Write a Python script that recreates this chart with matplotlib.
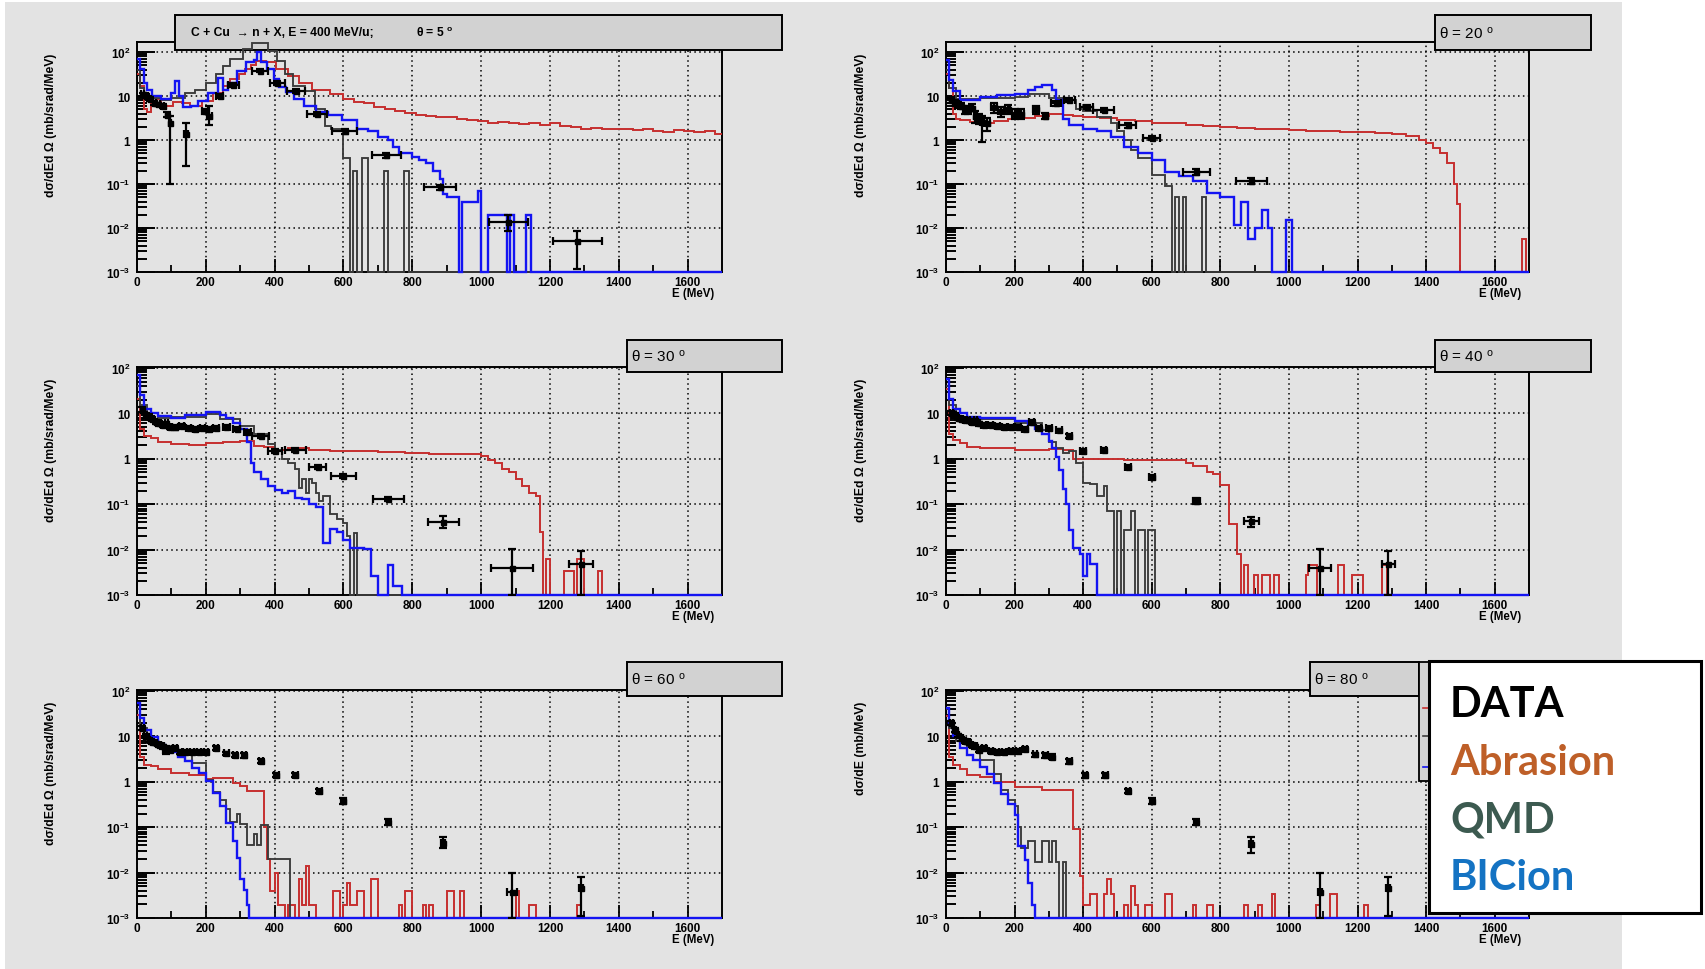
import numpy as np
import matplotlib
matplotlib.use("Agg")
import matplotlib.pyplot as plt
from matplotlib.patches import Rectangle
from matplotlib.lines import Line2D

plt.rcParams["font.family"] = ["Liberation Sans", "DejaVu Sans"]
plt.rcParams["mathtext.fontset"] = "custom"
plt.rcParams["mathtext.rm"] = "Liberation Sans"
plt.rcParams["mathtext.bf"] = "Liberation Sans:bold"
plt.rcParams["mathtext.it"] = "Liberation Sans:italic"

# ------------------------------------------------------------------
# Neutron spectra, C + Cu -> n + X at 400 MeV/u
# histograms: bin edges (MeV) and bin contents (mb/sr/MeV)
# ------------------------------------------------------------------

# theta = 5 deg
abr05_e = [0, 10, 20, 30, 40, 55, 70, 85, 105, 130, 155, 190, 220, 250, 270, 295, 315, 330, 345, 375,
           405, 440, 470, 510, 560, 600, 630, 660, 690, 720, 750, 780, 810, 840, 870, 900, 930, 960, 990, 1020,
           1050, 1080, 1110, 1140, 1170, 1200, 1230, 1260, 1290, 1320, 1350, 1380, 1410, 1440, 1470, 1500, 1530, 1560, 1590, 1620,
           1650, 1680, 1700]
abr05_v = [32, 17, 5, 4.3, 10, 8.5, 5, 5.9, 7.2, 6.8, 5.9, 7.8, 12, 17, 24, 32, 41, 50, 64, 59,
           41, 29, 20, 14, 11, 8.7, 7.5, 7, 5.8, 5, 4.6, 4.2, 3.8, 3.6, 3.4, 3.3, 3.0, 2.8, 2.7, 2.5,
           2.6, 2.4, 2.3, 2.4, 2.2, 2.4, 2.1, 2.0, 1.8, 1.9, 1.75, 1.8, 1.75, 1.7, 1.8, 1.65, 1.55, 1.7, 1.6, 1.5,
           1.65, 1.4]
qmd05_e = [0, 10, 20, 40, 70, 100, 140, 170, 200, 231, 251, 270, 309, 334, 382, 406, 430, 454, 488, 517,
           546, 565, 600, 620, 628, 640, 655, 670, 718, 728, 775, 790, 1700]
qmd05_v = [40, 15, 10, 9, 8, 9, 12, 14, 20, 32, 49, 69, 117, 165, 107, 64, 32, 17, 13, 5,
           2.1, 1.8, 0.4, 0, 0.2, 0, 0.4, 0, 0.2, 0, 0.2, 0]
bic05_e = [0, 10, 20, 30, 45, 70, 100, 110, 123, 133, 157, 176, 205, 234, 249, 263, 292, 316, 340, 350,
           359, 379, 398, 413, 432, 457, 486, 520, 554, 595, 640, 670, 700, 730, 745, 760, 780, 800, 820, 840,
           860, 880, 890, 900, 935, 945, 990, 1000, 1020, 1075, 1085, 1095, 1130, 1145, 1700]
bic05_v = [69, 41, 20, 14, 10, 8.5, 12, 22, 10, 5.6, 5.9, 7.8, 12, 26, 14, 20, 38, 59, 66, 100,
           59, 41, 24.5, 16, 12.3, 8.5, 6, 4.3, 3.7, 2.8, 1.8, 1.6, 1.2, 1.0, 0.7, 0.5, 0.5, 0.42, 0.36, 0.3,
           0.2, 0.13, 0.06, 0.05, 0, 0.04, 0.07, 0, 0.02, 0, 0.02, 0, 0.02, 0]
d05_e = [17, 27, 38, 50, 62, 75, 88, 95, 143, 197, 210, 240, 280, 358, 408, 462, 523, 603, 725, 881, 1079, 1280]
d05_y = [11, 10, 8.5, 7, 6.5, 6, 3.8, 2.4, 1.4, 4.5, 3.6, 10, 18, 38, 20, 13, 3.9, 1.6, 0.45, 0.085, 0.014, 0.005]
d05_ex = [4, 4, 4, 4, 4, 4, 4, 3, 5, 8, 8, 10, 17, 24, 22, 27, 30, 35, 42, 47, 57, 70]
d05_lo = [1, 1, 0.8, 0.7, 0.6, 0.6, 0.5, 2.3, 1.14, 0.5, 1.4, 1, 1.5, 3, 2, 1.5, 0.4, 0.2, 0.05, 0.012, 0.0053, 0.0038]
d05_hi = [1, 1, 0.8, 0.7, 0.6, 0.6, 0.5, 1.1, 1.0, 0.5, 2.3, 1, 1.5, 3, 2, 1.5, 0.4, 0.2, 0.05, 0.012, 0.006, 0.0035]

# theta = 20 deg
abr20_e = [0, 10, 20, 30, 40, 70, 100, 140, 180, 220, 260, 300, 340, 370, 400, 450, 500, 550, 600, 650,
           700, 750, 800, 850, 900, 950, 1000, 1050, 1100, 1150, 1200, 1250, 1300, 1340, 1380, 1400, 1420, 1440, 1460, 1480,
           1490, 1500, 1680, 1690, 1700]
abr20_v = [32, 15, 4, 3, 2.9, 2.6, 2.5, 2.7, 3.0, 3.1, 3.5, 4.0, 3.8, 3.5, 3.4, 3.1, 2.9, 2.7, 2.5, 2.4,
           2.25, 2.05, 2.0, 1.9, 1.8, 1.75, 1.7, 1.65, 1.6, 1.55, 1.5, 1.45, 1.35, 1.25, 1.0, 0.85, 0.65, 0.5, 0.3, 0.1,
           0.035, 0, 0.0055, 0]
qmd20_e = [0, 10, 30, 100, 200, 240, 300, 340, 380, 400, 440, 480, 500, 520, 540, 560, 580, 600, 640, 660,
           668, 680, 690, 700, 747, 757, 1700]
qmd20_v = [40, 15, 8.5, 9, 9.5, 11, 9, 8, 5, 4.5, 3.4, 2.5, 1.6, 1.0, 0.6, 0.4, 0.4, 0.16, 0.09, 0,
           0.05, 0, 0.05, 0, 0.05, 0]
bic20_e = [0, 10, 20, 40, 100, 150, 200, 240, 260, 280, 310, 320, 340, 360, 400, 440, 480, 520, 560, 600,
           640, 680, 720, 760, 800, 840, 860, 880, 900, 920, 940, 950, 990, 1010, 1700]
bic20_v = [65, 23, 13, 8, 9.5, 10.5, 11, 13.5, 16, 18, 14, 8, 3, 2.2, 1.8, 1.6, 1.2, 0.7, 0.5, 0.35,
           0.19, 0.15, 0.12, 0.063, 0.05, 0.012, 0.04, 0.0055, 0.01, 0.026, 0.01, 0, 0.015, 0]
d20_e = [15, 25, 35, 45, 55, 65, 75, 85, 95, 105, 120, 140, 160, 180, 200, 220, 262, 290, 320, 360,
         410, 460, 530, 600, 730, 890]
d20_y = [8, 7, 6.5, 6, 5, 5, 5.5, 3.5, 3.1, 2.6, 2.4, 5.6, 4.5, 5.2, 4, 4, 5, 3.6, 6.8, 8.3,
         5.6, 4.8, 2.2, 1.1, 0.19, 0.12]
d20_ex = [4, 4, 4, 4, 4, 4, 4, 4, 4, 5, 8, 8, 8, 8, 8, 8, 8, 8, 15, 15, 20, 30, 25, 25, 40, 45]
d20_lo = [1, 1, 1, 1, 1, 1, 1, 1, 0.8, 1.7, 0.8, 1.5, 1.2, 1.2, 1.0, 1.0, 1.0, 0.6, 0.8, 0.8,
          0.6, 0.5, 0.3, 0.12, 0.03, 0.02]
d20_hi = [1, 1, 1, 1, 1, 1, 1, 1, 0.8, 1.0, 0.8, 1.5, 1.2, 1.2, 1.0, 1.0, 1.0, 0.6, 0.8, 0.8,
          0.6, 0.5, 0.3, 0.12, 0.03, 0.02]

# theta = 30 deg
abr30_e = [0, 10, 20, 40, 60, 100, 150, 200, 250, 300, 340, 370, 400, 440, 500, 560, 620, 700, 780, 850,
           920, 1000, 1020, 1040, 1060, 1080, 1100, 1120, 1140, 1160, 1170, 1180, 1190, 1200, 1240, 1270, 1280, 1300, 1340, 1350,
           1700]
abr30_v = [21, 4.6, 3.2, 2.8, 2.3, 2.1, 2.0, 2.2, 2.3, 2.5, 1.9, 1.8, 1.6, 1.7, 1.55, 1.5, 1.45, 1.4, 1.35, 1.3,
           1.25, 1.15, 0.95, 0.8, 0.6, 0.5, 0.35, 0.25, 0.18, 0.15, 0.024, 0, 0.0063, 0, 0.0033, 0, 0.0063, 0, 0.0033, 0]
qmd30_e = [0, 10, 30, 60, 100, 200, 240, 300, 340, 380, 400, 420, 440, 460, 470, 480, 490, 500, 510, 520,
           530, 540, 560, 580, 600, 610, 620, 632, 640, 1700]
qmd30_v = [40, 15, 10, 8, 8.5, 9.5, 7.5, 5.3, 3.5, 2.1, 1.6, 1.0, 0.8, 0.6, 0.23, 0.35, 0.18, 0.35, 0.3, 0.18,
           0.12, 0.15, 0.06, 0.046, 0.038, 0.02, 0, 0.023, 0]
bic30_e = [0, 10, 20, 40, 60, 100, 140, 200, 240, 260, 280, 300, 320, 330, 340, 360, 380, 400, 420, 440,
           460, 480, 500, 520, 540, 560, 580, 600, 620, 660, 680, 700, 730, 745, 770, 1700]
bic30_v = [69, 25, 12.6, 10, 8.9, 8, 9, 10.7, 9, 8, 6, 4.5, 2.3, 0.8, 0.5, 0.35, 0.25, 0.21, 0.18, 0.2,
           0.14, 0.13, 0.1, 0.085, 0.014, 0.028, 0.025, 0.016, 0.011, 0.0105, 0.0026, 0, 0.0045, 0.0016, 0]
d30_e = [15, 25, 35, 45, 55, 65, 75, 85, 95, 110, 130, 150, 170, 190, 210, 230, 260, 290, 320, 360,
         400, 460, 525, 600, 730, 890, 1090, 1290]
d30_y = [12, 9, 8.5, 7.5, 6.5, 6, 5.5, 6, 5, 5, 5.3, 4.8, 4.6, 4.8, 4.5, 4.8, 5, 4.5, 3.9, 3.2,
         1.5, 1.55, 0.66, 0.42, 0.13, 0.041, 0.0039, 0.0047]
d30_ex = [4, 4, 4, 4, 4, 4, 4, 4, 4, 8, 8, 8, 8, 8, 8, 8, 10, 10, 10, 25, 20, 30, 25, 35, 45, 45, 60, 35]
d30_lo = [1.5, 1, 1, 0.8, 0.7, 0.7, 0.6, 0.6, 0.5, 0.6, 0.6, 0.5, 0.5, 0.5, 0.5, 0.5, 0.5, 0.5, 0.4, 0.3,
          0.15, 0.15, 0.06, 0.04, 0.015, 0.011, 0.0029, 0.0037]
d30_hi = [1.5, 1, 1, 0.8, 0.7, 0.7, 0.6, 0.6, 0.5, 0.6, 0.6, 0.5, 0.5, 0.5, 0.5, 0.5, 0.5, 0.5, 0.4, 0.3,
          0.15, 0.15, 0.06, 0.04, 0.015, 0.014, 0.0066, 0.0046]

# theta = 40 deg
abr40_e = [0, 10, 20, 40, 60, 100, 200, 300, 340, 370, 380, 450, 520, 600, 700, 720, 760, 780, 800, 826,
           848, 860, 870, 882, 898, 911, 922, 945, 955, 970, 1049, 1057, 1081, 1142, 1161, 1185, 1217, 1272, 1285, 1700]
abr40_v = [35, 3.5, 2.6, 2.2, 1.8, 1.7, 1.55, 1.65, 1.6, 1.0, 1.0, 0.97, 0.95, 0.95, 0.8, 0.7, 0.5, 0.46, 0.26, 0.036,
           0.008, 0, 0.0045, 0, 0.0027, 0, 0.0027, 0, 0.0027, 0, 0.0027, 0.0045, 0, 0.0045, 0, 0.0027, 0, 0.0045, 0]
qmd40_e = [0, 10, 30, 100, 200, 280, 300, 320, 340, 360, 380, 400, 420, 440, 460, 470, 490, 500, 510, 520,
           540, 550, 560, 580, 590, 610, 1700]
qmd40_v = [40, 15, 8, 7.4, 6.2, 4.2, 2.4, 1.75, 1.35, 1.5, 0.82, 0.3, 0.28, 0.15, 0.25, 0.07, 0, 0.07, 0, 0.027,
           0.07, 0, 0.027, 0, 0.027, 0]
bic40_e = [0, 10, 20, 40, 60, 100, 200, 240, 260, 280, 300, 310, 320, 330, 340, 350, 360, 370, 390, 400,
           410, 420, 440, 1700]
bic40_v = [58, 21, 12.7, 10, 8.5, 7.8, 6.9, 5.5, 4.5, 3.6, 2.5, 1.7, 1.1, 0.58, 0.22, 0.1, 0.027, 0.011, 0.008, 0.0026,
           0.008, 0.0048, 0]
d40_e = [15, 25, 35, 45, 55, 65, 75, 85, 95, 110, 130, 150, 170, 190, 210, 230, 250, 270, 300, 330,
         360, 400, 460, 530, 600, 730, 890, 1090, 1290]
d40_y = [10, 9, 8, 7.5, 7.2, 7, 6.5, 7, 6, 5.5, 5.5, 5.3, 5, 5, 5, 4.5, 6.4, 4.8, 4.7, 4.2,
         3.2, 1.5, 1.55, 0.66, 0.4, 0.12, 0.042, 0.004, 0.0047]
d40_ex = [4, 4, 4, 4, 4, 4, 4, 4, 4, 8, 8, 8, 8, 8, 8, 8, 8, 8, 8, 8, 8, 8, 8, 8, 8, 10, 22, 32, 18]
d40_lo = [1, 1, 0.8, 0.7, 0.7, 0.7, 0.6, 0.7, 0.6, 0.5, 0.5, 0.5, 0.5, 0.5, 0.5, 0.5, 0.6, 0.5, 0.5, 0.4,
          0.3, 0.15, 0.15, 0.07, 0.05, 0.02, 0.01, 0.003, 0.0037]
d40_hi = [1, 1, 0.8, 0.7, 0.7, 0.7, 0.6, 0.7, 0.6, 0.5, 0.5, 0.5, 0.5, 0.5, 0.5, 0.5, 0.6, 0.5, 0.5, 0.4,
          0.3, 0.15, 0.15, 0.07, 0.05, 0.02, 0.01, 0.0065, 0.0046]

# theta = 60 deg
abr60_e = [0, 10, 20, 40, 60, 100, 150, 200, 220, 280, 300, 320, 369, 378, 387, 400, 410, 430, 440, 460,
           470, 480, 490, 500, 520, 570, 590, 600, 610, 620, 640, 660, 680, 700, 760, 770, 780, 800, 830, 840,
           850, 860, 900, 920, 940, 950, 1100, 1110, 1140, 1160, 1280, 1290, 1700]
abr60_v = [29, 3.6, 2.4, 2.2, 1.9, 1.6, 1.4, 1.15, 1.2, 0.95, 0.8, 0.62, 0.1, 0.02, 0.004, 0.01, 0.0019, 0, 0.0019, 0,
           0.0073, 0.0019, 0.014, 0.0019, 0, 0.004, 0, 0.0019, 0.006, 0.0019, 0.004, 0, 0.0073, 0, 0.0019, 0, 0.004, 0, 0.0019, 0,
           0.0019, 0, 0.004, 0, 0.004, 0, 0.004, 0, 0.0019, 0, 0.0019, 0]
qmd60_e = [0, 10, 30, 60, 100, 120, 160, 200, 220, 240, 260, 270, 290, 300, 320, 340, 350, 360, 380, 446, 1700]
qmd60_v = [40, 15, 7, 6, 5, 4.6, 2.6, 1.1, 0.6, 0.4, 0.25, 0.13, 0.2, 0.12, 0.04, 0.07, 0.04, 0.11, 0.02, 0]
bic60_e = [0, 10, 20, 40, 60, 80, 100, 120, 140, 160, 180, 200, 220, 240, 260, 280, 290, 300, 310, 320, 325, 1700]
bic60_v = [53, 25, 13.6, 9.7, 6.5, 5.5, 4.6, 3.6, 2.8, 2.0, 1.55, 1.03, 0.57, 0.29, 0.125, 0.05, 0.021, 0.0073, 0.0042, 0.0019, 0]
d60_e = [15, 25, 35, 45, 55, 65, 75, 85, 95, 110, 125, 140, 160, 180, 200, 230, 260, 285, 310, 360,
         405, 460, 530, 600, 730, 890, 1090, 1290]
d60_y = [15, 10, 8.5, 7.5, 7, 6.5, 6, 5, 5, 5.5, 4.6, 4.6, 4.6, 4.6, 4.6, 5.6, 4.2, 3.9, 3.8, 2.9,
         1.4, 1.4, 0.64, 0.38, 0.13, 0.045, 0.0037, 0.0045]
d60_ex = [4, 4, 4, 4, 4, 4, 4, 10, 4, 6, 6, 6, 6, 6, 6, 6, 6, 6, 6, 6, 8, 8, 8, 8, 6, 6, 15, 5]
d60_lo = [1.5, 1, 0.8, 0.7, 0.7, 0.6, 0.6, 1, 0.5, 0.5, 0.5, 0.5, 0.5, 0.5, 0.5, 0.6, 0.4, 0.4, 0.4, 0.3,
          0.15, 0.15, 0.07, 0.05, 0.02, 0.011, 0.0027, 0.0034]
d60_hi = [1.5, 1, 0.8, 0.7, 0.7, 0.6, 0.6, 1, 0.5, 0.5, 0.5, 0.5, 0.5, 0.5, 0.5, 0.6, 0.4, 0.4, 0.4, 0.3,
          0.15, 0.15, 0.07, 0.05, 0.02, 0.015, 0.0063, 0.0037]

# theta = 80 deg
abr80_e = [0, 10, 20, 40, 60, 100, 140, 200, 280, 370, 390, 400, 420, 440, 460, 470, 480, 490, 520, 530,
           540, 550, 560, 580, 600, 640, 660, 720, 730, 760, 780, 870, 880, 910, 920, 950, 960, 1080, 1090, 1120,
           1140, 1220, 1230, 1700]
abr80_v = [28, 3.5, 2.3, 1.9, 1.4, 1.3, 1.0, 0.78, 0.66, 0.09, 0.0085, 0.0019, 0.0034, 0, 0.0034, 0.0072, 0.0034, 0, 0.0019, 0,
           0.0051, 0.0019, 0, 0.0019, 0, 0.0034, 0, 0.0019, 0, 0.0019, 0, 0.0019, 0, 0.0019, 0, 0.0034, 0, 0.0019, 0, 0.0034,
           0, 0.0019, 0]
qmd80_e = [0, 10, 30, 60, 100, 140, 160, 180, 200, 210, 220, 240, 260, 280, 300, 310, 320, 330, 340, 350, 1700]
qmd80_v = [40, 15, 8, 5.8, 3, 1.5, 0.66, 0.4, 0.29, 0.1, 0.035, 0.05, 0.017, 0.05, 0.017, 0.05, 0.017, 0, 0.017, 0]
bic80_e = [0, 10, 20, 40, 60, 80, 100, 120, 140, 160, 180, 200, 210, 230, 240, 250, 260, 1700]
bic80_v = [43, 18, 10.3, 5.6, 3.8, 3.0, 2.1, 1.5, 0.92, 0.55, 0.33, 0.19, 0.038, 0.019, 0.0059, 0.0019, 0]
d80_e = [15, 25, 35, 45, 55, 65, 75, 85, 95, 110, 130, 150, 170, 190, 210, 230, 260, 290, 310, 360,
         405, 465, 530, 600, 730, 890, 1090, 1290]
d80_y = [20, 14, 10.5, 9, 8, 7.5, 6.5, 6, 5, 5.5, 4.8, 4.6, 4.6, 4.8, 4.8, 5.3, 4, 3.8, 3.6, 2.8,
         1.38, 1.38, 0.63, 0.38, 0.13, 0.043, 0.0037, 0.0045]
d80_ex = [4, 4, 4, 4, 4, 4, 4, 4, 4, 6, 6, 6, 6, 6, 6, 6, 6, 6, 6, 6, 6, 6, 6, 6, 6, 6, 5, 6]
d80_lo = [2, 1.5, 1, 0.9, 0.8, 0.7, 0.6, 0.6, 0.5, 0.5, 0.5, 0.5, 0.5, 0.5, 0.5, 0.5, 0.4, 0.4, 0.4, 0.3,
          0.15, 0.15, 0.07, 0.05, 0.02, 0.016, 0.0027, 0.0034]
d80_hi = [2, 1.5, 1, 0.9, 0.8, 0.7, 0.6, 0.6, 0.5, 0.5, 0.5, 0.5, 0.5, 0.5, 0.5, 0.5, 0.4, 0.4, 0.4, 0.3,
          0.15, 0.15, 0.07, 0.05, 0.02, 0.017, 0.0063, 0.0035]

# axis tick labels
x_ticks = [0, 200, 400, 600, 800, 1000, 1200, 1400, 1600]
x_minor = [100, 300, 500, 700, 900, 1100, 1300, 1500]
y_ticks = [1e-3, 1e-2, 1e-1, 1, 10, 100]
y_labels = [r"$\mathbf{10^{-3}}$", r"$\mathbf{10^{-2}}$", r"$\mathbf{10^{-1}}$", "1", "10", r"$\mathbf{10^{2}}$"]
legend_names = ["DATA", "Abrasion", "QMD", "BICion"]

# ------------------------------------------------------------------
W, H = 1706, 970
CANVAS = "#E3E3E3"
PAVE = "#D2D2D2"
RED = "#C62F2F"
BLUE = "#1414F2"
QMDC = "#3A3A3A"
YMIN = 1e-3

fig = plt.figure(figsize=(W / 100, H / 100), dpi=100)
fig.patch.set_facecolor("white")
fig.add_artist(Rectangle((5 / W, 0), 1617 / W, 967 / H, transform=fig.transFigure,
                         facecolor=CANVAS, edgecolor="none", zorder=-10))


def fx(px):
    return px / W


def fy(py):
    return 1 - py / H


YL_SR = "d\u03c3/dEd \u03a9 (mb/srad/MeV)"
YL_80 = "d\u03c3/dE (mb/MeV)"

panels = [
    dict(box=(137, 43, 722, 273), ymax=170, abr=(abr05_e, abr05_v), qmd=(qmd05_e, qmd05_v),
         bic=(bic05_e, bic05_v), dat=(d05_e, d05_y, d05_ex, d05_lo, d05_hi), ylab=YL_SR, ylx=51,
         pave=(175, 16, 782, 51)),
    dict(box=(946, 43, 1529, 273), ymax=170, abr=(abr20_e, abr20_v), qmd=(qmd20_e, qmd20_v),
         bic=(bic20_e, bic20_v), dat=(d20_e, d20_y, d20_ex, d20_lo, d20_hi), ylab=YL_SR, ylx=861,
         pave=(1435, 16, 1591, 51), ptxt="\u03b8 = 20"),
    dict(box=(137, 368, 722, 596), ymax=105, abr=(abr30_e, abr30_v), qmd=(qmd30_e, qmd30_v),
         bic=(bic30_e, bic30_v), dat=(d30_e, d30_y, d30_ex, d30_lo, d30_hi), ylab=YL_SR, ylx=51,
         pave=(627, 341, 782, 373), ptxt="\u03b8 = 30"),
    dict(box=(946, 368, 1529, 596), ymax=105, abr=(abr40_e, abr40_v), qmd=(qmd40_e, qmd40_v),
         bic=(bic40_e, bic40_v), dat=(d40_e, d40_y, d40_ex, d40_lo, d40_hi), ylab=YL_SR, ylx=861,
         pave=(1435, 341, 1591, 373), ptxt="\u03b8 = 40"),
    dict(box=(137, 691, 722, 919), ymax=105, abr=(abr60_e, abr60_v), qmd=(qmd60_e, qmd60_v),
         bic=(bic60_e, bic60_v), dat=(d60_e, d60_y, d60_ex, d60_lo, d60_hi), ylab=YL_SR, ylx=51,
         pave=(627, 663, 782, 697), ptxt="\u03b8 = 60"),
    dict(box=(946, 691, 1529, 919), ymax=105, abr=(abr80_e, abr80_v), qmd=(qmd80_e, qmd80_v),
         bic=(bic80_e, bic80_v), dat=(d80_e, d80_y, d80_ex, d80_lo, d80_hi), ylab=YL_80, ylx=861,
         pave=(1310, 663, 1419, 697), ptxt="\u03b8 = 80"),
]

for p in panels:
    x0, y0, x1, y1 = p["box"]
    ax = fig.add_axes([fx(x0), fy(y1), (x1 - x0) / W, (y1 - y0) / H])
    ax.set_facecolor("none")
    ax.set_yscale("log")
    ax.set_xlim(0, 1700)
    ax.set_ylim(YMIN, p["ymax"])
    for s in ax.spines.values():
        s.set_linewidth(1.4)

    ax.grid(True, which="major", color="black", linestyle=(0, (1, 2.2)), linewidth=1.1)

    # model histograms: Abrasion, QMD, BICion
    for (e, v), col, lw in ((p["abr"], RED, 1.4), (p["qmd"], QMDC, 1.35), (p["bic"], BLUE, 1.7)):
        ax.stairs(np.maximum(np.asarray(v, float), YMIN), e, baseline=None,
                  color=col, linewidth=lw, zorder=3, clip_on=False)

    # measured points
    de, dy, dex, dlo, dhi = p["dat"]
    ax.errorbar(de, dy, xerr=dex, yerr=[dlo, dhi], fmt="s", ms=3.6, mfc="black", mec="black",
                ecolor="black", elinewidth=1.6, capsize=2.6, capthick=1.6, zorder=4)

    ax.set_xticks(x_ticks, labels=[str(t) for t in x_ticks], fontsize=8.5, fontweight="bold")
    ax.set_xticks(x_minor, minor=True)
    ax.set_yticks(y_ticks, labels=y_labels, fontsize=8.5, fontweight="bold")
    ax.yaxis.set_minor_locator(matplotlib.ticker.LogLocator(base=10, subs=np.arange(2, 10), numticks=20))
    ax.yaxis.set_minor_formatter(matplotlib.ticker.NullFormatter())
    ax.tick_params(axis="x", which="major", direction="in", length=9.5, width=1.3, top=False, pad=3)
    ax.tick_params(axis="x", which="minor", direction="in", length=5, width=1.3, top=False)
    ax.tick_params(axis="y", which="major", direction="in", length=13, width=1.4, right=False, pad=5)
    ax.tick_params(axis="y", which="minor", direction="in", length=7, width=1.4, right=False)

    # title pave
    px0, py0, px1, py1 = p["pave"]
    ax.add_patch(Rectangle((fx(px0), fy(py1)), (px1 - px0) / W, (py1 - py0) / H,
                           transform=fig.transFigure, facecolor=PAVE, edgecolor="black",
                           linewidth=1.4, clip_on=False, zorder=2.6))
    yc = fy((py0 + py1) / 2)
    if "ptxt" in p:
        ax.text(fx(px0 + 4), yc, p["ptxt"] + r" $^{\mathrm{o}}$", transform=fig.transFigure,
                fontsize=11, va="center", ha="left", zorder=2.7)
    else:
        ax.text(fx(191), yc, "C + Cu  \u2192 n + X, E = 400 MeV/u;", transform=fig.transFigure,
                fontsize=8.7, fontweight="bold", va="center", ha="left", zorder=2.7)
        ax.text(fx(416), yc, "\u03b8 = 5 " + r"$^{\mathbf{o}}$", transform=fig.transFigure,
                fontsize=8.7, fontweight="bold", va="center", ha="left", zorder=2.7)

    fig.text(fx(p["ylx"]), fy(y0 + 11), p["ylab"], rotation=90, ha="center", va="top",
             fontsize=8.8, fontweight="bold")
    fig.text(fx(x1 - 8), fy(y1 + 21), "E (MeV)", ha="right", va="center",
             fontsize=8.3, fontweight="bold")

# remnant of the original histogram legend behind the overlay box
fig.add_artist(Rectangle((fx(1419), fy(782)), 22 / W, (782 - 663) / H, transform=fig.transFigure,
                         facecolor=PAVE, edgecolor="black", linewidth=1.3, zorder=15))
for yy, col in ((709, RED), (737, QMDC), (768, BLUE)):
    fig.add_artist(Line2D([fx(1423), fx(1430)], [fy(yy), fy(yy)], color=col, linewidth=1.2,
                          transform=fig.transFigure, zorder=16))

# overlay legend
fig.add_artist(Rectangle((fx(1429), fy(914)), (1701 - 1429) / W, (914 - 662) / H,
                         transform=fig.transFigure, facecolor="white", edgecolor="black",
                         linewidth=2.2, zorder=20))
legend_colors = ["#000000", "#BE5F28", "#3C5A50", "#1473C3"]
legend_base = [717, 775, 833, 890]
for name, col, yb in zip(legend_names, legend_colors, legend_base):
    fig.text(fx(1450), fy(yb), name, color=col, fontsize=30, fontweight="bold",
             family=["Lato", "DejaVu Sans"], ha="left", va="baseline", zorder=21)

fig.savefig("out.png", dpi=100)
